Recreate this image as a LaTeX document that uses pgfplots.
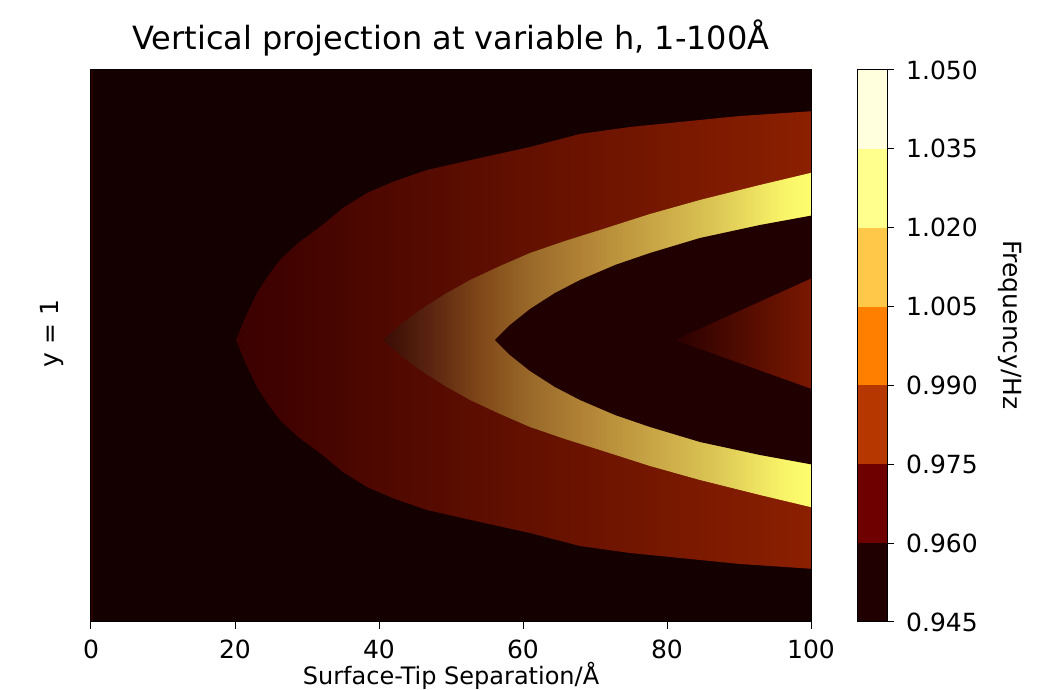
\documentclass[border=0pt]{standalone}
\usepackage{fontspec}
\setmainfont{DejaVu Sans}
\usepackage{pgfplots}
\pgfplotsset{compat=1.18}

% heat-map colours
\definecolor{bgdark}{HTML}{150000}
\definecolor{innerdark}{HTML}{200000}
\definecolor{edgered}{HTML}{2C0000}
\definecolor{ob0}{HTML}{3A0000}
\definecolor{ob1}{HTML}{620A00}
\definecolor{ob2}{HTML}{8C2000}
\definecolor{tr0}{HTML}{2A0000}
\definecolor{tr1}{HTML}{7C1800}
\definecolor{yb0}{HTML}{3A0C05}
\definecolor{yb1}{HTML}{5A2410}
\definecolor{yb2}{HTML}{804818}
\definecolor{yb3}{HTML}{9A6A2A}
\definecolor{yb4}{HTML}{B08235}
\definecolor{yb5}{HTML}{C8A545}
\definecolor{yb6}{HTML}{DCC655}
\definecolor{yb7}{HTML}{F8F468}
\definecolor{yb8}{HTML}{FFFF70}
% colorbar levels (afmhot)
\definecolor{cb1}{HTML}{200000}
\definecolor{cb2}{HTML}{6E0000}
\definecolor{cb3}{HTML}{B63800}
\definecolor{cb4}{HTML}{FF8000}
\definecolor{cb5}{HTML}{FFC848}
\definecolor{cb6}{HTML}{FFFF8E}
\definecolor{cb7}{HTML}{FFFFDE}

\pgfdeclarehorizontalshading{yband}{100bp}{%
  color(0bp)=(yb0); color(25bp)=(yb0); color(30.5bp)=(yb1);
  color(36.3bp)=(yb2); color(42.2bp)=(yb3); color(48bp)=(yb4);
  color(56.2bp)=(yb5); color(63.5bp)=(yb6); color(71.4bp)=(yb7);
  color(75bp)=(yb8); color(100bp)=(yb8)}

\begin{document}
\begin{tikzpicture}
\path[use as bounding box] (0pt,0pt) rectangle (1037pt,690pt);

\begin{axis}[
  at={(91pt,68pt)}, anchor=south west,
  width=720pt, height=552pt, scale only axis,
  xmin=0, xmax=100, ymin=-282, ymax=270,
  axis on top,
  axis background/.style={fill=bgdark},
  axis line style={line width=1pt, black},
  xtick={0,20,40,60,80,100}, ytick=\empty,
  xtick pos=bottom, xtick align=outside,
  major tick length=7pt,
  every tick/.style={line width=1pt, black},
  /pgf/number format/assume math mode=true,
  xticklabel style={font=\fontsize{25}{30}\selectfont, inner sep=0pt, anchor=north, yshift=-11pt},
  title={Vertical projection at variable h, 1-100Å},
  title style={font=\fontsize{32}{38}\selectfont, at={(axis description cs:0.5,1)}, anchor=base, yshift=14pt, inner sep=0pt},
  xlabel={Surface-Tip Separation/Å},
  xlabel style={font=\fontsize{24}{29}\selectfont, at={(axis description cs:0.5,0)}, anchor=base, yshift=-63pt, inner sep=0pt},
  ylabel={y = 1},
  ylabel style={font=\fontsize{25}{30}\selectfont, at={(axis description cs:-0.054,0.522)}, anchor=center, inner sep=0pt},
]
% thin lighter column at the left edge
\addplot[draw=none, fill=edgered, mark=none] coordinates {
  (0,-282) (0.3,-282) (0.3,270) (0,270)} -- cycle;
% outer band
\addplot[draw=none, mark=none, left color=ob0, middle color=ob1, right color=ob2] coordinates {
  (100.5,229) (90.14,224) (81.81,218) (74.86,213) (67.92,206) (60.97,193)
  (54.03,182) (46.67,170) (42.22,159) (38.33,147) (35.0,132) (31.81,113)
  (28.75,97) (26.25,80) (24.58,64) (23.06,47) (21.39,22) (20.14,0)
  (21.39,-22) (23.06,-47) (24.58,-64) (26.25,-80) (28.75,-97) (31.81,-113)
  (35.0,-132) (38.33,-147) (42.22,-159) (46.67,-170) (54.03,-182) (60.97,-193)
  (67.92,-206) (74.86,-213) (81.81,-218) (90.14,-224) (100.5,-229)} -- cycle;
% bright band
\addplot[draw=none, mark=none, shade, shading=yband] coordinates {
  (100.5,168) (92.92,155) (84.58,140) (77.64,126) (70.69,110) (65.83,99)
  (60.97,87) (56.81,74) (52.64,60) (49.17,46) (45.69,30) (42.92,15) (40.56,0)
  (42.92,-15) (45.69,-30) (49.17,-46) (52.64,-60) (56.81,-74) (60.97,-87)
  (65.83,-99) (70.69,-110) (77.64,-126) (84.58,-140) (92.92,-155) (100.5,-168)} -- cycle;
% inner dark region
\addplot[draw=none, fill=innerdark, mark=none] coordinates {
  (100.5,125) (92.92,115) (84.58,102) (77.64,87) (72.78,75) (67.92,60)
  (64.44,47) (60.97,31) (58.19,15) (56.11,0) (58.19,-15) (60.97,-31)
  (64.44,-47) (67.92,-60) (72.78,-75) (77.64,-87) (84.58,-102) (92.92,-115)
  (100.5,-125)} -- cycle;
% inner wedge
\addplot[draw=none, mark=none, left color=tr0, right color=tr1] coordinates {
  (100.5,63) (81.1,0) (100.5,-50)} -- cycle;
\end{axis}

\begin{axis}[
  at={(857pt,68pt)}, anchor=south west,
  width=30pt, height=552pt, scale only axis,
  xmin=0, xmax=1, ymin=0.945, ymax=1.05,
  axis on top,
  axis line style={line width=1pt, black},
  xtick=\empty,
  ytick={0.945,0.96,0.975,0.99,1.005,1.02,1.035,1.05},
  ytick pos=right, yticklabel pos=right, ytick align=outside,
  major tick length=7pt,
  every tick/.style={line width=1pt, black},
  /pgf/number format/assume math mode=true,
  yticklabel style={font=\fontsize{25}{30}\selectfont, inner sep=0pt, anchor=west, xshift=12pt,
    /pgf/number format/.cd, fixed, fixed zerofill, precision=3},
  ylabel={Frequency/Hz},
  ylabel style={font=\fontsize{25}{30}\selectfont, at={(axis description cs:5.1,0.538)}, anchor=center, rotate=180, inner sep=0pt},
]
\addplot[draw=none, fill=cb1, mark=none] coordinates {(0,0.945) (1,0.945) (1,0.96) (0,0.96)} -- cycle;
\addplot[draw=none, fill=cb2, mark=none] coordinates {(0,0.96) (1,0.96) (1,0.975) (0,0.975)} -- cycle;
\addplot[draw=none, fill=cb3, mark=none] coordinates {(0,0.975) (1,0.975) (1,0.99) (0,0.99)} -- cycle;
\addplot[draw=none, fill=cb4, mark=none] coordinates {(0,0.99) (1,0.99) (1,1.005) (0,1.005)} -- cycle;
\addplot[draw=none, fill=cb5, mark=none] coordinates {(0,1.005) (1,1.005) (1,1.02) (0,1.02)} -- cycle;
\addplot[draw=none, fill=cb6, mark=none] coordinates {(0,1.02) (1,1.02) (1,1.035) (0,1.035)} -- cycle;
\addplot[draw=none, fill=cb7, mark=none] coordinates {(0,1.035) (1,1.035) (1,1.05) (0,1.05)} -- cycle;
\end{axis}
\end{tikzpicture}
\end{document}
